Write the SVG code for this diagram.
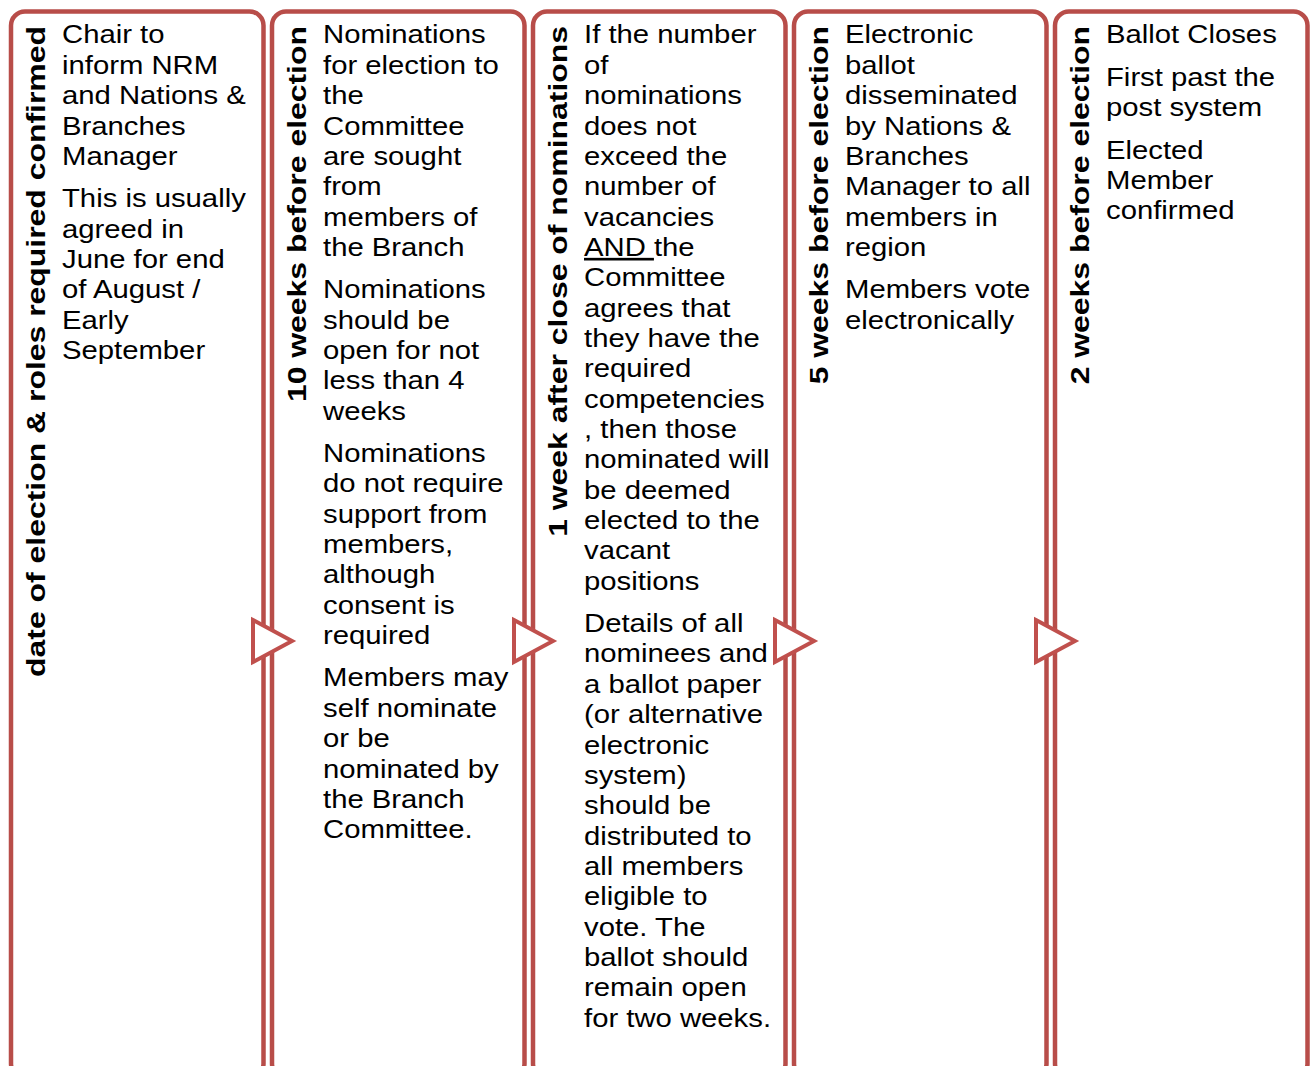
<svg xmlns="http://www.w3.org/2000/svg" width="1314" height="1066" viewBox="0 0 1314 1066">
<style>
.box{fill:#ffffff;stroke:#b84d49;stroke-width:4.5}
.arr{fill:#ffffff;stroke:#c0504d;stroke-width:4;stroke-linejoin:miter}
.vt{font-family:"Liberation Sans",Arial,sans-serif;font-weight:bold;font-size:26.5px;fill:#000;text-anchor:end}
.bt{font-family:"Liberation Sans",Arial,sans-serif;font-size:26.5px;fill:#000}
</style>
<rect width="1314" height="1066" fill="#ffffff"/>
<g id="node1">
<rect class="box" x="11" y="11.5" width="252.5" height="1066" rx="14"/>
<text class="vt" transform="translate(44.5,26) rotate(-90) scale(1.205,1)">date of election &amp; roles required confirmed</text>
<g transform="translate(62,0) scale(1.105,1)">
<text class="bt"><tspan x="0" y="43.5">Chair to</tspan><tspan x="0" dy="30.35">inform NRM</tspan><tspan x="0" dy="30.35">and Nations &amp;</tspan><tspan x="0" dy="30.35">Branches</tspan><tspan x="0" dy="30.35">Manager</tspan><tspan x="0" dy="42.35">This is usually</tspan><tspan x="0" dy="30.35">agreed in</tspan><tspan x="0" dy="30.35">June for end</tspan><tspan x="0" dy="30.35">of August /</tspan><tspan x="0" dy="30.35">Early</tspan><tspan x="0" dy="30.35">September</tspan></text>
</g>
</g>
<g id="node2">
<rect class="box" x="272" y="11.5" width="252.5" height="1066" rx="14"/>
<text class="vt" transform="translate(305.5,26) rotate(-90) scale(1.205,1)">10 weeks before election</text>
<g transform="translate(323,0) scale(1.105,1)">
<text class="bt"><tspan x="0" y="43.5">Nominations</tspan><tspan x="0" dy="30.35">for election to</tspan><tspan x="0" dy="30.35">the</tspan><tspan x="0" dy="30.35">Committee</tspan><tspan x="0" dy="30.35">are sought</tspan><tspan x="0" dy="30.35">from</tspan><tspan x="0" dy="30.35">members of</tspan><tspan x="0" dy="30.35">the Branch</tspan><tspan x="0" dy="42.35">Nominations</tspan><tspan x="0" dy="30.35">should be</tspan><tspan x="0" dy="30.35">open for not</tspan><tspan x="0" dy="30.35">less than 4</tspan><tspan x="0" dy="30.35">weeks</tspan><tspan x="0" dy="42.35">Nominations</tspan><tspan x="0" dy="30.35">do not require</tspan><tspan x="0" dy="30.35">support from</tspan><tspan x="0" dy="30.35">members,</tspan><tspan x="0" dy="30.35">although</tspan><tspan x="0" dy="30.35">consent is</tspan><tspan x="0" dy="30.35">required</tspan><tspan x="0" dy="42.35">Members may</tspan><tspan x="0" dy="30.35">self nominate</tspan><tspan x="0" dy="30.35">or be</tspan><tspan x="0" dy="30.35">nominated by</tspan><tspan x="0" dy="30.35">the Branch</tspan><tspan x="0" dy="30.35">Committee.</tspan></text>
</g>
</g>
<g id="node3">
<rect class="box" x="533" y="11.5" width="252.5" height="1066" rx="14"/>
<text class="vt" transform="translate(566.5,26) rotate(-90) scale(1.205,1)">1 week after close of nominations</text>
<g transform="translate(584,0) scale(1.105,1)">
<text class="bt"><tspan x="0" y="43.5">If the number</tspan><tspan x="0" dy="30.35">of</tspan><tspan x="0" dy="30.35">nominations</tspan><tspan x="0" dy="30.35">does not</tspan><tspan x="0" dy="30.35">exceed the</tspan><tspan x="0" dy="30.35">number of</tspan><tspan x="0" dy="30.35">vacancies</tspan><tspan x="0" dy="30.35"><tspan text-decoration="underline">AND </tspan>the</tspan><tspan x="0" dy="30.35">Committee</tspan><tspan x="0" dy="30.35">agrees that</tspan><tspan x="0" dy="30.35">they have the</tspan><tspan x="0" dy="30.35">required</tspan><tspan x="0" dy="30.35">competencies</tspan><tspan x="0" dy="30.35">, then those</tspan><tspan x="0" dy="30.35">nominated will</tspan><tspan x="0" dy="30.35">be deemed</tspan><tspan x="0" dy="30.35">elected to the</tspan><tspan x="0" dy="30.35">vacant</tspan><tspan x="0" dy="30.35">positions</tspan><tspan x="0" dy="42.35">Details of all</tspan><tspan x="0" dy="30.35">nominees and</tspan><tspan x="0" dy="30.35">a ballot paper</tspan><tspan x="0" dy="30.35">(or alternative</tspan><tspan x="0" dy="30.35">electronic</tspan><tspan x="0" dy="30.35">system)</tspan><tspan x="0" dy="30.35">should be</tspan><tspan x="0" dy="30.35">distributed to</tspan><tspan x="0" dy="30.35">all members</tspan><tspan x="0" dy="30.35">eligible to</tspan><tspan x="0" dy="30.35">vote. The</tspan><tspan x="0" dy="30.35">ballot should</tspan><tspan x="0" dy="30.35">remain open</tspan><tspan x="0" dy="30.35">for two weeks.</tspan></text>
</g>
</g>
<g id="node4">
<rect class="box" x="794" y="11.5" width="252.5" height="1066" rx="14"/>
<text class="vt" transform="translate(827.5,26) rotate(-90) scale(1.205,1)">5 weeks before election</text>
<g transform="translate(845,0) scale(1.105,1)">
<text class="bt"><tspan x="0" y="43.5">Electronic</tspan><tspan x="0" dy="30.35">ballot</tspan><tspan x="0" dy="30.35">disseminated</tspan><tspan x="0" dy="30.35">by Nations &amp;</tspan><tspan x="0" dy="30.35">Branches</tspan><tspan x="0" dy="30.35">Manager to all</tspan><tspan x="0" dy="30.35">members in</tspan><tspan x="0" dy="30.35">region</tspan><tspan x="0" dy="42.35">Members vote</tspan><tspan x="0" dy="30.35">electronically</tspan></text>
</g>
</g>
<g id="node5">
<rect class="box" x="1055" y="11.5" width="252.5" height="1066" rx="14"/>
<text class="vt" transform="translate(1088.5,26) rotate(-90) scale(1.205,1)">2 weeks before election</text>
<g transform="translate(1106,0) scale(1.105,1)">
<text class="bt"><tspan x="0" y="43.5">Ballot Closes</tspan><tspan x="0" dy="42.35">First past the</tspan><tspan x="0" dy="30.35">post system</tspan><tspan x="0" dy="42.35">Elected</tspan><tspan x="0" dy="30.35">Member</tspan><tspan x="0" dy="30.35">confirmed</tspan></text>
</g>
</g>
<g id="connectors">
<polygon class="arr" points="253,620 292,641 253,662"/>
<polygon class="arr" points="514,620 553,641 514,662"/>
<polygon class="arr" points="775,620 814,641 775,662"/>
<polygon class="arr" points="1036,620 1075,641 1036,662"/>
</g>
</svg>
